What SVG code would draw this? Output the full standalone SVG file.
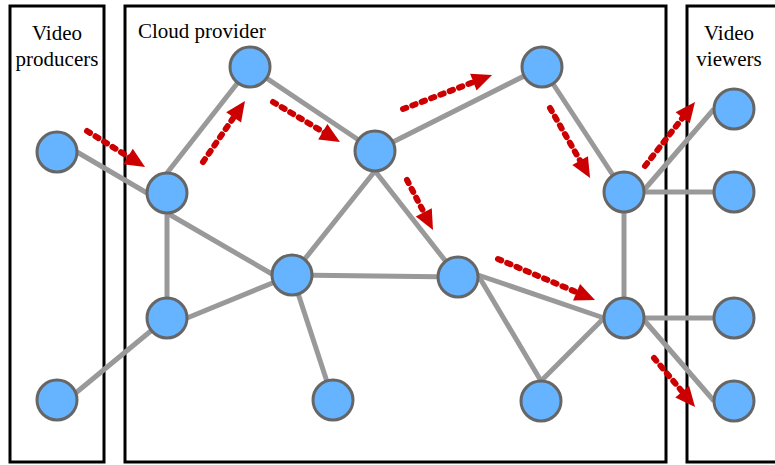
<svg xmlns="http://www.w3.org/2000/svg" width="775" height="465" viewBox="0 0 775 465">
<style>
.box{fill:none;stroke:#000;stroke-width:3}
.lbl{font-family:"Liberation Serif","Times New Roman",serif;font-size:21px;fill:#000}
.e{stroke:#999;stroke-width:5;fill:none}
.n{fill:#66b3ff;stroke:#666;stroke-width:3}
.a{stroke:#cc0000;stroke-width:6;fill:none;stroke-dasharray:3.5 6.5;stroke-linecap:round;marker-end:url(#ah)}
</style>
<defs>
<marker id="ah" markerUnits="userSpaceOnUse" markerWidth="20" markerHeight="18" refX="7" refY="9" orient="auto" overflow="visible">
<path d="M0,0 L20,9 L0,18 z" fill="#cc0000"/>
</marker>
</defs>
<rect x="0" y="0" width="775" height="465" fill="#fff"/>
<g id="producers-box"><rect class="box" x="10" y="6" width="94" height="456"/>
<text class="lbl" x="57" y="40" text-anchor="middle">Video</text>
<text class="lbl" x="57" y="66" text-anchor="middle">producers</text></g>
<g id="cloud-box"><rect class="box" x="125" y="6" width="541" height="456"/>
<text class="lbl" x="138" y="38">Cloud provider</text></g>
<g id="viewers-box"><rect class="box" x="687" y="6" width="100" height="456"/>
<text class="lbl" x="729" y="40" text-anchor="middle">Video</text>
<text class="lbl" x="729" y="66" text-anchor="middle">viewers</text></g>
<g id="edges">
<line class="e" x1="77" y1="152" x2="147" y2="193"/>
<line class="e" x1="72" y1="396" x2="152" y2="330"/>
<line class="e" x1="167" y1="173" x2="250" y2="67"/>
<line class="e" x1="167" y1="213" x2="167" y2="298"/>
<line class="e" x1="167" y1="213" x2="272" y2="274"/>
<line class="e" x1="187" y1="318" x2="292" y2="275"/>
<line class="e" x1="292" y1="275" x2="333" y2="400"/>
<line class="e" x1="375" y1="171" x2="292" y2="275"/>
<line class="e" x1="375" y1="171" x2="458" y2="277"/>
<line class="e" x1="250" y1="67" x2="375" y2="151"/>
<line class="e" x1="292" y1="275" x2="458" y2="277"/>
<line class="e" x1="375" y1="151" x2="542" y2="67"/>
<line class="e" x1="542" y1="67" x2="624" y2="192"/>
<line class="e" x1="478" y1="275" x2="604" y2="318"/>
<line class="e" x1="478" y1="275" x2="541" y2="381"/>
<line class="e" x1="541" y1="381" x2="604" y2="318"/>
<line class="e" x1="624" y1="192" x2="624" y2="318"/>
<line class="e" x1="644" y1="190" x2="714" y2="109"/>
<line class="e" x1="624" y1="192" x2="734" y2="192"/>
<line class="e" x1="624" y1="318" x2="734" y2="318"/>
<line class="e" x1="644" y1="320" x2="714" y2="401"/>
</g>
<g id="flows">
<line class="a" x1="87" y1="131" x2="134" y2="160.2"/>
<line class="a" x1="203" y1="162" x2="237.6" y2="111.7"/>
<line class="a" x1="273" y1="102" x2="328.8" y2="135.3"/>
<line class="a" x1="403" y1="109" x2="479.9" y2="79.6"/>
<line class="a" x1="407" y1="180" x2="427" y2="218.5"/>
<line class="a" x1="550" y1="108" x2="583.6" y2="166.7"/>
<line class="a" x1="645" y1="166" x2="687" y2="112.2"/>
<line class="a" x1="498" y1="259" x2="583" y2="294.9"/>
<line class="a" x1="654" y1="358" x2="686.7" y2="397"/>
</g>
<g id="P1"><circle class="n" cx="57" cy="152" r="20"/></g>
<g id="P2"><circle class="n" cx="57" cy="400" r="20"/></g>
<g id="A"><circle class="n" cx="167" cy="193" r="20"/></g>
<g id="B"><circle class="n" cx="250" cy="67" r="20"/></g>
<g id="C"><circle class="n" cx="167" cy="318" r="20"/></g>
<g id="D"><circle class="n" cx="292" cy="275" r="20"/></g>
<g id="E"><circle class="n" cx="333" cy="400" r="20"/></g>
<g id="F"><circle class="n" cx="375" cy="151" r="20"/></g>
<g id="G"><circle class="n" cx="458" cy="277" r="20"/></g>
<g id="H"><circle class="n" cx="542" cy="67" r="20"/></g>
<g id="I"><circle class="n" cx="541" cy="401" r="20"/></g>
<g id="J"><circle class="n" cx="624" cy="192" r="20"/></g>
<g id="K"><circle class="n" cx="624" cy="318" r="20"/></g>
<g id="V1"><circle class="n" cx="734" cy="109" r="20"/></g>
<g id="V2"><circle class="n" cx="734" cy="192" r="20"/></g>
<g id="V3"><circle class="n" cx="734" cy="318" r="20"/></g>
<g id="V4"><circle class="n" cx="734" cy="401" r="20"/></g>
</svg>
